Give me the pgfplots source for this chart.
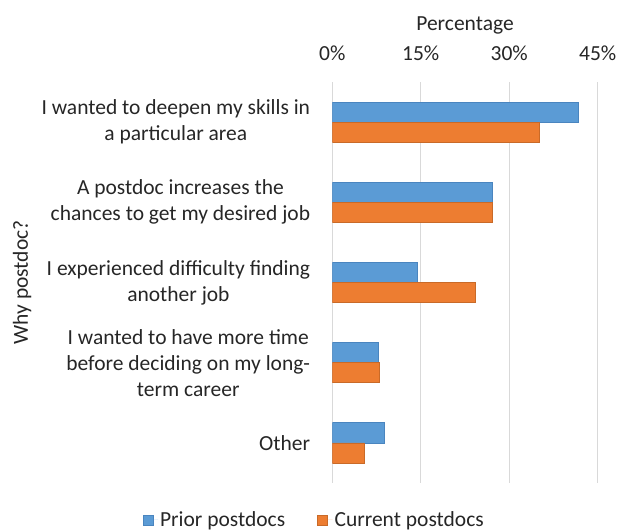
\documentclass[border=0pt]{standalone}
\usepackage{fontspec}
\setmainfont{Carlito}
\usepackage{pgfplots}
\pgfplotsset{compat=1.18}
\definecolor{prior}{HTML}{5B9BD5}
\definecolor{current}{HTML}{ED7D31}
\definecolor{priorline}{HTML}{4A85BF}
\definecolor{currentline}{HTML}{C96A28}
\definecolor{gridgray}{HTML}{D9D9D9}
\definecolor{txt}{HTML}{262626}
\newcommand{\chartfont}{\fontsize{21.5bp}{26bp}\selectfont}
\begin{document}
\begin{tikzpicture}
% page size of the reference, in bp around the plot area
\path[use as bounding box] (-332.3bp,-48bp) rectangle (287.7bp,483bp);
\begin{axis}[
    at={(0,0)}, anchor=south west,
    scale only axis, width=265.4bp, height=401bp,
    xbar, bar width=0.25,
    xmin=0, xmax=45,
    ymin=-0.5, ymax=4.5, y dir=reverse,
    axis line style={draw=none},
    major tick length=0pt,
    xmajorgrids, grid style={gridgray, line width=0.75bp},
    xtick={0,15,30,45},
    xticklabels={0\%,15\%,30\%,45\%},
    xticklabel pos=upper,
    xticklabel style={font=\chartfont, text=txt, inner sep=0pt, anchor=base, yshift=22bp},
    ytick={0,1,2,3,4},
    yticklabels={{I wanted to deepen my skills in\\a particular area},
                 {A postdoc increases the\\chances to get my desired job},
                 {I experienced difficulty finding\\another job},
                 {I wanted to have more time\\before deciding on my long-\\term career},
                 {Other}},
    yticklabel style={font=\chartfont, text=txt, align=center, inner sep=0pt, xshift=-22bp},
    xlabel={Percentage},
    xlabel style={font=\chartfont, text=txt, at={(axis description cs:0.5,1)}, anchor=base, inner sep=0pt, yshift=52bp},
    ylabel={Why postdoc?},
    ylabel style={font=\chartfont, text=txt, at={(axis description cs:-1.169,0.5)}, anchor=center, inner sep=0pt},
    legend style={at={(axis description cs:-0.068,-0.092)}, anchor=center,
        draw=none, fill=none, legend columns=2, font=\chartfont, text=txt,
        /tikz/every even column/.append style={column sep=30bp}},
    legend image code/.code={\fill[#1] (0bp,-5bp) rectangle (10bp,5bp);
        \path[draw=none] (0bp,0bp) -- (15bp,0bp);},
]
\addplot[fill=prior, draw=priorline, line width=0.75bp, bar shift=-0.125]
    coordinates {(41.8,0) (27.1,1) (14.5,2) (7.8,3) (8.9,4)};
\addplot[fill=current, draw=currentline, line width=0.75bp, bar shift=0.125]
    coordinates {(35.1,0) (27.1,1) (24.2,2) (8.0,3) (5.4,4)};
\legend{Prior postdocs, Current postdocs}
\end{axis}
\end{tikzpicture}
\end{document}
